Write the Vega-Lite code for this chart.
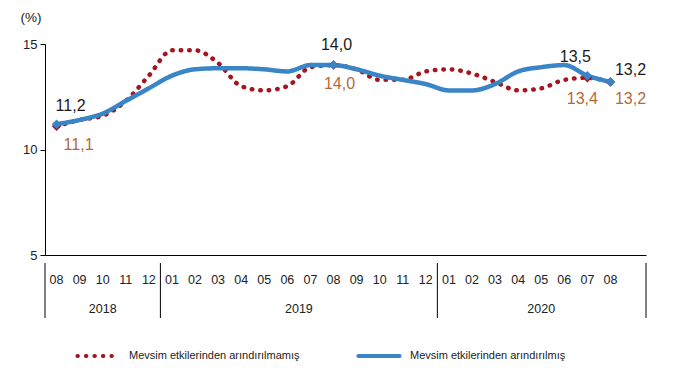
{
  "$schema": "https://vega.github.io/schema/vega-lite/v6.json",
  "padding": {"left": 20, "top": 10, "right": 10, "bottom": 5},
  "background": "white",
  "config": {
    "font": "Liberation Sans",
    "view": {"stroke": null},
    "locale": {"number": {"decimal": ",", "thousands": ".", "grouping": [3], "currency": ["", " TL"]}},
    "axis": {"labelFont": "Liberation Sans", "titleFont": "Liberation Sans"},
    "legend": {"labelFont": "Liberation Sans"}
  },
  "datasets": {
    "seriler": [
      {"ay": "2018-08", "Mevsim etkilerinden arındırılmamış": 11.1, "Mevsim etkilerinden arındırılmış": 11.2},
      {"ay": "2018-09", "Mevsim etkilerinden arındırılmamış": 11.4, "Mevsim etkilerinden arındırılmış": 11.4},
      {"ay": "2018-10", "Mevsim etkilerinden arındırılmamış": 11.6, "Mevsim etkilerinden arındırılmış": 11.7},
      {"ay": "2018-11", "Mevsim etkilerinden arındırılmamış": 12.3, "Mevsim etkilerinden arındırılmış": 12.3},
      {"ay": "2018-12", "Mevsim etkilerinden arındırılmamış": 13.5, "Mevsim etkilerinden arındırılmış": 12.9},
      {"ay": "2019-01", "Mevsim etkilerinden arındırılmamış": 14.7, "Mevsim etkilerinden arındırılmış": 13.5},
      {"ay": "2019-02", "Mevsim etkilerinden arındırılmamış": 14.7, "Mevsim etkilerinden arındırılmış": 13.8},
      {"ay": "2019-03", "Mevsim etkilerinden arındırılmamış": 14.1, "Mevsim etkilerinden arındırılmış": 13.85},
      {"ay": "2019-04", "Mevsim etkilerinden arındırılmamış": 13.0, "Mevsim etkilerinden arındırılmış": 13.85},
      {"ay": "2019-05", "Mevsim etkilerinden arındırılmamış": 12.8, "Mevsim etkilerinden arındırılmış": 13.8},
      {"ay": "2019-06", "Mevsim etkilerinden arındırılmamış": 13.0, "Mevsim etkilerinden arındırılmış": 13.7},
      {"ay": "2019-07", "Mevsim etkilerinden arındırılmamış": 13.9, "Mevsim etkilerinden arındırılmış": 14.0},
      {"ay": "2019-08", "Mevsim etkilerinden arındırılmamış": 14.0, "Mevsim etkilerinden arındırılmış": 14.0},
      {"ay": "2019-09", "Mevsim etkilerinden arındırılmamış": 13.8, "Mevsim etkilerinden arındırılmış": 13.8},
      {"ay": "2019-10", "Mevsim etkilerinden arındırılmamış": 13.3, "Mevsim etkilerinden arındırılmış": 13.5},
      {"ay": "2019-11", "Mevsim etkilerinden arındırılmamış": 13.3, "Mevsim etkilerinden arındırılmış": 13.3},
      {"ay": "2019-12", "Mevsim etkilerinden arındırılmamış": 13.7, "Mevsim etkilerinden arındırılmış": 13.1},
      {"ay": "2020-01", "Mevsim etkilerinden arındırılmamış": 13.8, "Mevsim etkilerinden arındırılmış": 12.8},
      {"ay": "2020-02", "Mevsim etkilerinden arındırılmamış": 13.6, "Mevsim etkilerinden arındırılmış": 12.8},
      {"ay": "2020-03", "Mevsim etkilerinden arındırılmamış": 13.2, "Mevsim etkilerinden arındırılmış": 13.1},
      {"ay": "2020-04", "Mevsim etkilerinden arındırılmamış": 12.8, "Mevsim etkilerinden arındırılmış": 13.7},
      {"ay": "2020-05", "Mevsim etkilerinden arındırılmamış": 12.9, "Mevsim etkilerinden arındırılmış": 13.9},
      {"ay": "2020-06", "Mevsim etkilerinden arındırılmamış": 13.3, "Mevsim etkilerinden arındırılmış": 14.0},
      {"ay": "2020-07", "Mevsim etkilerinden arındırılmamış": 13.4, "Mevsim etkilerinden arındırılmış": 13.5},
      {"ay": "2020-08", "Mevsim etkilerinden arındırılmamış": 13.2, "Mevsim etkilerinden arındırılmış": 13.2}
    ],
    "aylar": [
      {"ay": "2018-08", "no": "08"}, {"ay": "2018-09", "no": "09"}, {"ay": "2018-10", "no": "10"},
      {"ay": "2018-11", "no": "11"}, {"ay": "2018-12", "no": "12"},
      {"ay": "2019-01", "no": "01"}, {"ay": "2019-02", "no": "02"}, {"ay": "2019-03", "no": "03"},
      {"ay": "2019-04", "no": "04"}, {"ay": "2019-05", "no": "05"}, {"ay": "2019-06", "no": "06"},
      {"ay": "2019-07", "no": "07"}, {"ay": "2019-08", "no": "08"}, {"ay": "2019-09", "no": "09"},
      {"ay": "2019-10", "no": "10"}, {"ay": "2019-11", "no": "11"}, {"ay": "2019-12", "no": "12"},
      {"ay": "2020-01", "no": "01"}, {"ay": "2020-02", "no": "02"}, {"ay": "2020-03", "no": "03"},
      {"ay": "2020-04", "no": "04"}, {"ay": "2020-05", "no": "05"}, {"ay": "2020-06", "no": "06"},
      {"ay": "2020-07", "no": "07"}, {"ay": "2020-08", "no": "08"}
    ],
    "yillar": [
      {"ay": "2018-10", "yil": "2018"},
      {"ay": "2019-07", "yil": "2019"},
      {"ay": "2020-05", "yil": "2020"}
    ],
    "sinirlar": [
      {"ay": "2018-08"}, {"ay": "2019-01"}, {"ay": "2020-01"}
    ]
  },
  "spacing": 0,
  "vconcat": [
    {
      "width": 601,
      "height": 211,
      "data": {"name": "seriler"},
      "transform": [
        {"fold": ["Mevsim etkilerinden arındırılmamış", "Mevsim etkilerinden arındırılmış"], "as": ["seri", "deger"]}
      ],
      "encoding": {
        "x": {"field": "ay", "type": "ordinal", "bandPosition": 0.5,
              "scale": {"type": "band", "paddingInner": 0, "paddingOuter": 0.52, "align": 0},
              "axis": {"title": null, "labels": false, "ticks": false, "grid": false, "domainColor": "#000", "domainWidth": 1}},
        "y": {"field": "deger", "type": "quantitative",
              "scale": {"domain": [5, 15], "nice": false, "zero": false},
              "axis": {"values": [5, 10, 15], "grid": false, "tickSize": 5, "tickColor": "#000", "domainColor": "#000",
                       "labelFontSize": 13, "labelColor": "#222", "labelPadding": 3,
                       "title": "(%)", "titleAngle": 0, "titleX": -25, "titleY": -20, "titleAlign": "left",
                       "titleBaseline": "bottom", "titleFontSize": 13.5, "titleFontWeight": "normal", "titleColor": "#222"}}
      },
      "layer": [
        {
          "mark": {"type": "line", "interpolate": "monotone", "strokeCap": "round", "strokeWidth": 4.5},
          "encoding": {
            "color": {"field": "seri", "type": "nominal",
                      "scale": {"domain": ["Mevsim etkilerinden arındırılmamış", "Mevsim etkilerinden arındırılmış"], "range": ["#a3151f", "#3a85c6"]},
                      "legend": {"title": null, "orient": "none", "legendX": 30, "legendY": 289, "direction": "horizontal", "symbolType": "stroke",
                                 "symbolSize": 1700, "symbolStrokeWidth": 4, "labelFontSize": 11, "labelColor": "#222",
                                 "labelLimit": 400, "columnPadding": 50, "labelOffset": 8,
                                 "encode": {"symbols": {"update": {"strokeCap": {"value": "round"}}}}}},
            "strokeDash": {"field": "seri", "type": "nominal",
                           "scale": {"domain": ["Mevsim etkilerinden arındırılmamış", "Mevsim etkilerinden arındırılmış"], "range": [[0.5, 8], [1, 0]]},
                           "legend": {"title": null, "orient": "none", "legendX": 30, "legendY": 289, "direction": "horizontal", "symbolType": "stroke",
                                 "symbolSize": 1700, "symbolStrokeWidth": 4, "labelFontSize": 11, "labelColor": "#222",
                                 "labelLimit": 400, "columnPadding": 50, "labelOffset": 8,
                                 "encode": {"symbols": {"update": {"strokeCap": {"value": "round"}}}}}}
          }
        },
        {
          "transform": [{"filter": {"field": "ay", "oneOf": ["2018-08", "2019-08", "2020-07", "2020-08"]}}],
          "mark": {"type": "point", "shape": "diamond", "filled": true, "opacity": 1, "size": 90},
          "encoding": {"color": {"field": "seri", "type": "nominal", "legend": null}}
        },
        {
          "transform": [{"filter": "datum.seri == 'Mevsim etkilerinden arındırılmış' && datum.ay == '2018-08'"}],
          "mark": {"type": "text", "dx": 14, "dy": -18, "fontSize": 16, "color": "#1a1a1a", "baseline": "middle"},
          "encoding": {"text": {"field": "deger", "type": "quantitative", "format": ".1f"}}
        },
        {
          "transform": [{"filter": "datum.seri == 'Mevsim etkilerinden arındırılmış' && datum.ay == '2019-08'"}],
          "mark": {"type": "text", "dx": 3, "dy": -20, "fontSize": 16, "color": "#1a1a1a", "baseline": "middle"},
          "encoding": {"text": {"field": "deger", "type": "quantitative", "format": ".1f"}}
        },
        {
          "transform": [{"filter": "datum.seri == 'Mevsim etkilerinden arındırılmış' && datum.ay == '2020-07'"}],
          "mark": {"type": "text", "dx": -12, "dy": -19, "fontSize": 16, "color": "#1a1a1a", "baseline": "middle"},
          "encoding": {"text": {"field": "deger", "type": "quantitative", "format": ".1f"}}
        },
        {
          "transform": [{"filter": "datum.seri == 'Mevsim etkilerinden arındırılmış' && datum.ay == '2020-08'"}],
          "mark": {"type": "text", "dx": 20, "dy": -12, "fontSize": 16, "color": "#1a1a1a", "baseline": "middle"},
          "encoding": {"text": {"field": "deger", "type": "quantitative", "format": ".1f"}}
        },
        {
          "transform": [{"filter": "datum.seri == 'Mevsim etkilerinden arındırılmamış' && datum.ay == '2018-08'"}],
          "mark": {"type": "text", "dx": 22, "dy": 19, "fontSize": 16, "color": "#b06a3e", "baseline": "middle"},
          "encoding": {"text": {"field": "deger", "type": "quantitative", "format": ".1f"}}
        },
        {
          "transform": [{"filter": "datum.seri == 'Mevsim etkilerinden arındırılmamış' && datum.ay == '2019-08'"}],
          "mark": {"type": "text", "dx": 6, "dy": 19, "fontSize": 16, "color": "#b06a3e", "baseline": "middle"},
          "encoding": {"text": {"field": "deger", "type": "quantitative", "format": ".1f"}}
        },
        {
          "transform": [{"filter": "datum.seri == 'Mevsim etkilerinden arındırılmamış' && datum.ay == '2020-07'"}],
          "mark": {"type": "text", "dx": -5, "dy": 21, "fontSize": 16, "color": "#b06a3e", "baseline": "middle"},
          "encoding": {"text": {"field": "deger", "type": "quantitative", "format": ".1f"}}
        },
        {
          "transform": [{"filter": "datum.seri == 'Mevsim etkilerinden arındırılmamış' && datum.ay == '2020-08'"}],
          "mark": {"type": "text", "dx": 20, "dy": 17, "fontSize": 16, "color": "#b06a3e", "baseline": "middle"},
          "encoding": {"text": {"field": "deger", "type": "quantitative", "format": ".1f"}}
        }
      ]
    },
    {
      "width": 601,
      "height": 55,
      "layer": [
        {
          "data": {"name": "aylar"},
          "mark": {"type": "text", "fontSize": 12.5, "color": "#222", "baseline": "middle", "dy": -10.5},
          "encoding": {
            "x": {"field": "ay", "type": "ordinal", "bandPosition": 0.5,
                  "scale": {"type": "band", "paddingInner": 0, "paddingOuter": 0.52, "align": 0}, "axis": null},
            "text": {"field": "no", "type": "nominal"}
          }
        },
        {
          "data": {"name": "yillar"},
          "transform": [{"filter": "datum.yil != '2019'"}],
          "mark": {"type": "text", "fontSize": 12.5, "color": "#222", "baseline": "middle", "dy": 18},
          "encoding": {
            "x": {"field": "ay", "type": "ordinal", "bandPosition": 0.5, "axis": null},
            "text": {"field": "yil", "type": "nominal"}
          }
        },
        {
          "data": {"name": "yillar"},
          "transform": [{"filter": "datum.yil == '2019'"}],
          "mark": {"type": "text", "fontSize": 12.5, "color": "#222", "baseline": "middle", "dy": 18},
          "encoding": {
            "x": {"field": "ay", "type": "ordinal", "bandPosition": 0, "axis": null},
            "text": {"field": "yil", "type": "nominal"}
          }
        },
        {
          "data": {"name": "sinirlar"},
          "mark": {"type": "rule", "color": "#000", "strokeWidth": 1},
          "encoding": {
            "x": {"field": "ay", "type": "ordinal", "bandPosition": 0, "axis": null}
          }
        },
        {
          "data": {"values": [{"ay": "2020-08"}]},
          "mark": {"type": "rule", "color": "#000", "strokeWidth": 1},
          "encoding": {
            "x": {"field": "ay", "type": "ordinal", "bandPosition": 2.04, "axis": null}
          }
        }
      ]
    }
  ]
}
